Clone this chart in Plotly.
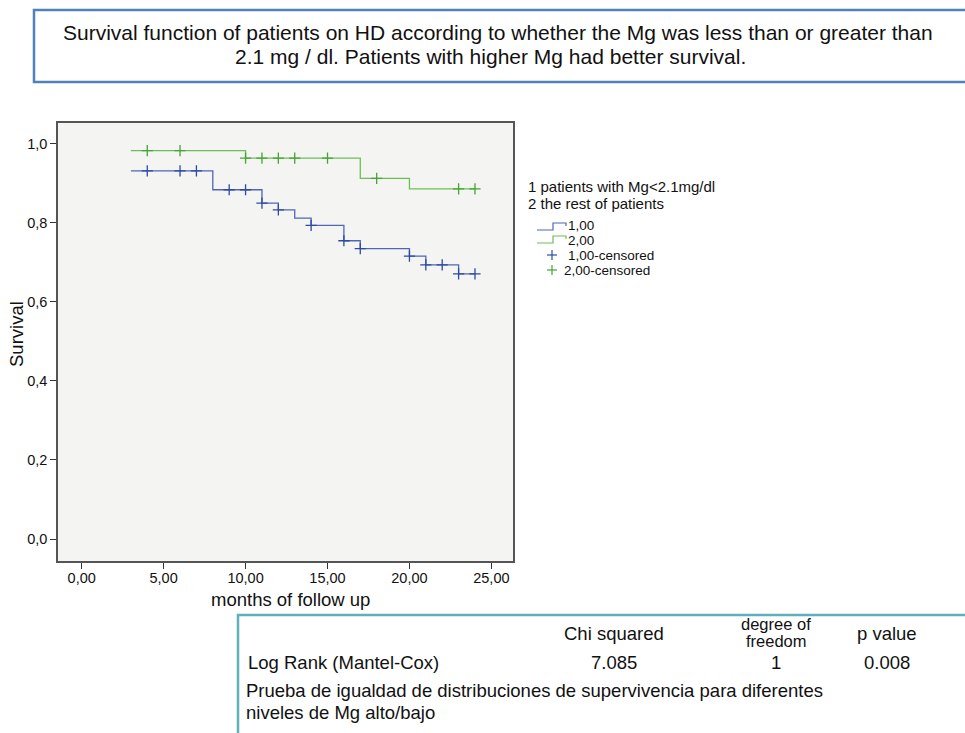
import numpy as np
import plotly.graph_objects as go

# ---- data ----
blue_times = [3, 8, 11, 12, 13, 14, 16, 17, 20, 21, 23, 24]
blue_surv = [0.932, 0.884, 0.850, 0.833, 0.812, 0.794, 0.755, 0.735, 0.716, 0.694, 0.671, 0.671]
blue_cens = [4, 6, 7, 9, 10, 11, 12, 14, 16, 17, 20, 21, 22, 23, 24]

green_times = [3, 10, 17, 20, 24]
green_surv = [0.983, 0.964, 0.913, 0.886, 0.886]
green_cens = [4, 6, 10, 11, 12, 13, 15, 18, 23, 24]

x_tickvals = [0, 5, 10, 15, 20, 25]
x_ticktext = ["0,00", "5,00", "10,00", "15,00", "20,00", "25,00"]
y_tickvals = [0.0, 0.2, 0.4, 0.6, 0.8, 1.0]
y_ticktext = ["0,0", "0,2", "0,4", "0,6", "0,8", "1,0"]

table_header = ["Chi squared", "degree of|freedom", "p value"]
table_row_label = "Log Rank (Mantel-Cox)"
table_row = ["7.085", "1", "0.008"]

title_lines = ["Survival function of patients on HD according to whether the Mg was less than or greater than",
               "2.1 mg / dl. Patients with higher Mg had better survival."]
note_lines = ["Prueba de igualdad de distribuciones de supervivencia para diferentes",
              "niveles de Mg alto/bajo"]
legend_title_lines = ["1 patients with Mg<2.1mg/dl", "2 the rest of patients"]
legend_labels = ["1,00", "2,00", "1,00-censored", "2,00-censored"]

W, H = 965, 733
BLUE_LINE = "#4f66b8"
GREEN_LINE = "#6dbf55"
BLUE_MARK = "#2d4aa3"
GREEN_MARK = "#45a336"
FONT = "Liberation Sans, Arial, sans-serif"
TXT = "#111"


def px(x):
    return x / W


def py(y):
    return 1 - y / H


def surv_at(times, surv, t):
    idx = np.searchsorted(np.array(times), np.array(t), side="right") - 1
    return list(np.array(surv)[idx])


fig = go.Figure()
fig.add_trace(go.Scatter(x=blue_times, y=blue_surv, mode="lines", line_shape="hv",
                         line=dict(color=BLUE_LINE, width=1.3), name="1,00", showlegend=False))
fig.add_trace(go.Scatter(x=green_times, y=green_surv, mode="lines", line_shape="hv",
                         line=dict(color=GREEN_LINE, width=1.3), name="2,00", showlegend=False))
fig.add_trace(go.Scatter(x=blue_cens, y=surv_at(blue_times, blue_surv, blue_cens), mode="markers",
                         marker=dict(symbol="cross-thin", size=8, line=dict(color=BLUE_MARK, width=1.3)),
                         name="1,00-censored", showlegend=False))
fig.add_trace(go.Scatter(x=green_cens, y=surv_at(green_times, green_surv, green_cens), mode="markers",
                         marker=dict(symbol="cross-thin", size=8, line=dict(color=GREEN_MARK, width=1.3)),
                         name="2,00-censored", showlegend=False))

shapes = []
annotations = []


def label(x, y, text, size, anchor="center", angle=0):
    annotations.append(dict(xref="paper", yref="paper", x=px(x), y=py(y), text=text, showarrow=False,
                            font=dict(family=FONT, size=size, color=TXT), xanchor=anchor, yanchor="middle",
                            textangle=angle, borderpad=0))


# title box
shapes.append(dict(type="rect", xref="paper", yref="paper", x0=px(34), x1=px(975), y0=py(82), y1=py(10),
                   line=dict(color="#4f81bd", width=2.5), fillcolor="rgba(0,0,0,0)"))
label(498, 33, title_lines[0], 21)
label(491, 57, title_lines[1], 21)

# table box (left & top edges visible)
shapes.append(dict(type="rect", xref="paper", yref="paper", x0=px(238), x1=px(975), y0=py(745), y1=py(615),
                   line=dict(color="#5fb0bd", width=2.5), fillcolor="rgba(0,0,0,0)"))
col_x = [614, 776, 887]
for cx, txt in zip(col_x, table_header):
    if "|" in txt:
        a, b = txt.split("|")
        label(cx, 624, a, 16.5)
        label(cx, 641, b, 16.5)
    else:
        label(cx, 633, txt, 18.5)
for cx, txt in zip(col_x, table_row):
    label(cx, 662, txt, 18.5)
label(247, 662, table_row_label, 18.5, "left")
label(245, 690, note_lines[0], 18.5, "left")
label(245, 712, note_lines[1], 18.5, "left")

# axis titles
label(290, 599, "months of follow up", 18.5)
label(16, 334, "Survival", 18.5, angle=-90)

# legend
label(527, 187, legend_title_lines[0], 15, "left")
label(527, 204, legend_title_lines[1], 15, "left")


def step_glyph(y_low, y_high, color):
    path = (f"M {px(537)},{py(y_low)} L {px(553)},{py(y_low)} L {px(553)},{py(y_high)} "
            f"L {px(566)},{py(y_high)} L {px(566)},{py(y_high + 3)}")
    return dict(type="path", xref="paper", yref="paper", path=path, line=dict(color=color, width=1.2))


shapes.append(step_glyph(230, 223, BLUE_LINE))
shapes.append(step_glyph(243, 236, GREEN_LINE))
for y, txt, xx in zip([225, 241, 255, 270], legend_labels, [567, 567, 567, 563]):
    label(xx, y, txt, 13.5, "left")
for y, col in [(255, BLUE_MARK), (270, GREEN_MARK)]:
    shapes.append(dict(type="line", xref="paper", yref="paper", x0=px(547), x1=px(557), y0=py(y), y1=py(y),
                       line=dict(color=col, width=1.2)))
    shapes.append(dict(type="line", xref="paper", yref="paper", x0=px(552), x1=px(552), y0=py(y - 5),
                       y1=py(y + 5), line=dict(color=col, width=1.2)))

fig.update_layout(
    width=W, height=H, autosize=False,
    margin=dict(l=0, r=0, t=0, b=0),
    paper_bgcolor="white", plot_bgcolor="#f4f4f2",
    font=dict(family=FONT, size=14, color=TXT),
    showlegend=False,
    shapes=shapes, annotations=annotations,
    xaxis=dict(domain=[px(58), px(513)], range=[-1.447, 26.32], tickvals=x_tickvals, ticktext=x_ticktext,
               ticks="outside", ticklen=6, tickcolor="#333", tickwidth=1.2, showgrid=False, zeroline=False,
               showline=True, mirror=True, linecolor="#555", linewidth=1.6, ticklabelstandoff=-3,
               tickfont=dict(family=FONT, size=14.5, color=TXT)),
    yaxis=dict(domain=[py(561), py(123)], range=[-0.0557, 1.053], tickvals=y_tickvals, ticktext=y_ticktext,
               ticks="outside", ticklen=6, tickcolor="#333", tickwidth=1.2, showgrid=False, zeroline=False,
               showline=True, mirror=True, linecolor="#555", linewidth=1.6,
               tickfont=dict(family=FONT, size=14.5, color=TXT)),
)

fig.write_html("out.html")
